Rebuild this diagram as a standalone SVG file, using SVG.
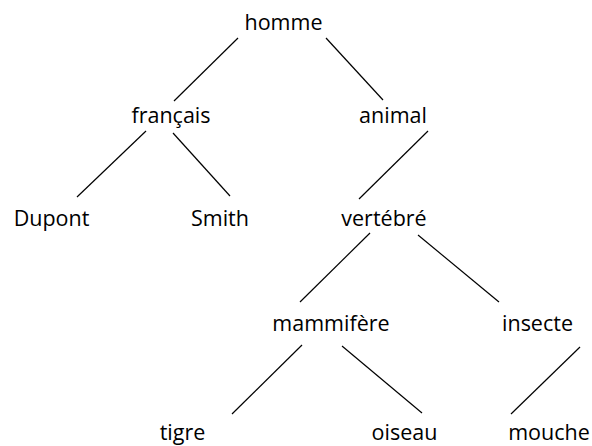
<svg xmlns="http://www.w3.org/2000/svg" width="592" height="446" viewBox="0 0 592 446">
<style>
text{font-family:"Open Sans","Noto Sans","DejaVu Sans",sans-serif;font-size:21.5px;fill:#000;text-anchor:middle}
line{stroke:#000;stroke-width:1.2}
</style>
<rect width="592" height="446" fill="#fff"/>
<g id="connectors">
<line x1="238" y1="38" x2="174" y2="101"/>
<line x1="326" y1="38" x2="383" y2="100"/>
<line x1="146" y1="131" x2="77" y2="197"/>
<line x1="173" y1="133" x2="230" y2="196"/>
<line x1="428" y1="131" x2="359" y2="199"/>
<line x1="370" y1="233" x2="300" y2="302"/>
<line x1="418" y1="235" x2="499" y2="302"/>
<line x1="302" y1="345" x2="232" y2="414"/>
<line x1="342" y1="346" x2="422" y2="413"/>
<line x1="580" y1="347" x2="511" y2="414"/>
</g>
<g id="homme"><text x="283.5" y="30">homme</text></g>
<g id="francais"><text x="171" y="123">français</text></g>
<g id="animal"><text x="393" y="123">animal</text></g>
<g id="dupont"><text x="51.5" y="226">Dupont</text></g>
<g id="smith"><text x="220" y="226">Smith</text></g>
<g id="vertebre"><text x="384" y="226">vertébré</text></g>
<g id="mammifere"><text x="331" y="331">mammifère</text></g>
<g id="insecte"><text x="537.5" y="331">insecte</text></g>
<g id="tigre"><text x="182.5" y="440">tigre</text></g>
<g id="oiseau"><text x="404.5" y="440">oiseau</text></g>
<g id="mouche"><text x="549" y="440">mouche</text></g>
</svg>
